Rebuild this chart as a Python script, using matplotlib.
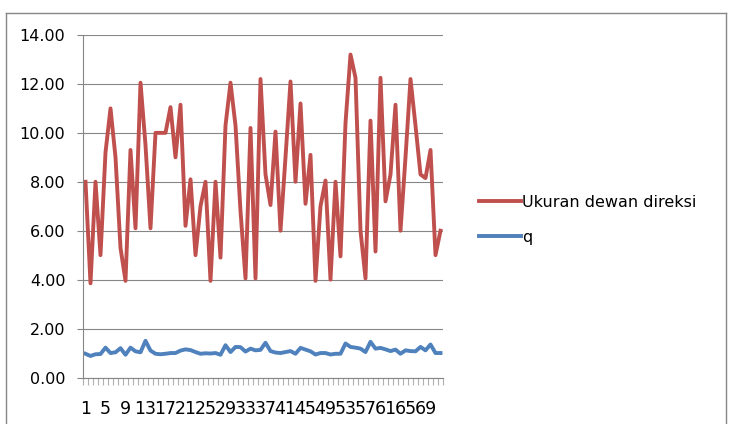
import matplotlib
matplotlib.use("Agg")
import matplotlib.pyplot as plt
import numpy as np
from matplotlib.lines import Line2D

ukuran = [8, 3.85, 8, 5, 9.2, 11, 9, 5.3, 3.95, 9.3,
          6.1, 12.05, 9.5, 6.1, 10, 10, 10, 11.05, 9, 11.15,
          6.2, 8.1, 5, 7, 8, 3.95, 8, 4.9, 10.3, 12.05,
          10.3, 6.8, 4.05, 10.2, 4.05, 12.2, 8.3, 7.05, 10.05, 6,
          9, 12.1, 8, 11.2, 7.1, 9.1, 3.95, 7, 8.05, 4,
          8, 4.95, 10.4, 13.2, 12.25, 6, 4.05, 10.5, 5.15, 12.25,
          7.2, 8.3, 11.15, 6, 9, 12.2, 10.3, 8.3, 8.15, 9.3,
          5, 6]
q = [0.97, 0.88, 0.95, 0.96, 1.22, 1.0, 1.03, 1.2, 0.93, 1.22,
     1.07, 1.03, 1.5, 1.1, 0.97, 0.95, 0.97, 1.0, 1.0, 1.1,
     1.15, 1.12, 1.04, 0.97, 0.99, 0.98, 1.0, 0.93, 1.32, 1.04,
     1.25, 1.24, 1.06, 1.18, 1.11, 1.13, 1.42, 1.08, 1.02, 1.0,
     1.04, 1.08, 0.97, 1.21, 1.14, 1.07, 0.94, 1.0, 1.0, 0.94,
     0.97, 0.97, 1.39, 1.25, 1.22, 1.18, 1.04, 1.46, 1.18, 1.21,
     1.15, 1.08, 1.14, 0.97, 1.11, 1.08, 1.07, 1.25, 1.11, 1.35,
     1.0, 1.0]
labels = [str(i) for i in range(1, 73)]

gray = "#868686"
plt.rcParams['font.family'] = ['DejaVu Sans']

W, H = 733, 424
fig = plt.figure(figsize=(W / 100, H / 100), dpi=100)
ax = fig.add_axes([83 / W, 1 - 377.5 / H, 360 / W, (377.5 - 35) / H])

x = np.arange(len(ukuran))
ax.plot(x, ukuran, color="#C0504D", lw=2.8, label="Ukuran dewan direksi", solid_joinstyle="round")
ax.plot(x, q, color="#4F81BD", lw=2.8, label="q", solid_joinstyle="round")

ax.set_xlim(-0.5, len(ukuran) - 0.5)
ax.set_ylim(0, 14)
ax.set_yticks(np.arange(0, 15, 2))
ax.set_yticklabels(["%.2f" % v for v in np.arange(0, 15, 2)])
ax.yaxis.grid(True, color=gray, lw=0.8)
ax.set_axisbelow(True)

ax.set_xticks(x[::4])
ax.set_xticklabels(labels[::4])
ax.set_xticks(np.arange(-0.5, len(ukuran)), minor=True)
ax.tick_params(axis="x", which="major", length=0, pad=16, labelsize=12.5)
ax.tick_params(axis="x", which="minor", length=5, color="#b0b0b0", width=0.8)
ax.tick_params(axis="y", length=4.3, color=gray, width=0.8, pad=8.4, labelsize=11.5)

for s in ["top", "right"]:
    ax.spines[s].set_visible(False)
for s in ["left", "bottom"]:
    ax.spines[s].set_color(gray)
    ax.spines[s].set_linewidth(0.8)

ax.legend(loc="upper left", bbox_to_anchor=(479 / W, 1 - 195 / H),
          bbox_transform=fig.transFigure, frameon=False, fontsize=11.5,
          handlelength=2.6, handletextpad=0.1, labelspacing=1.25,
          borderpad=0, borderaxespad=0)

# outer chart border
bx0, by0, bx1 = 6 / W, 1 - 12.5 / H, 726 / W
fig.add_artist(Line2D([bx0, bx0], [-0.1, by0], color=gray, lw=1))
fig.add_artist(Line2D([bx0, bx1], [by0, by0], color=gray, lw=1))
fig.add_artist(Line2D([bx1, bx1], [by0, -0.1], color=gray, lw=1))

fig.savefig("out.png", dpi=100)
